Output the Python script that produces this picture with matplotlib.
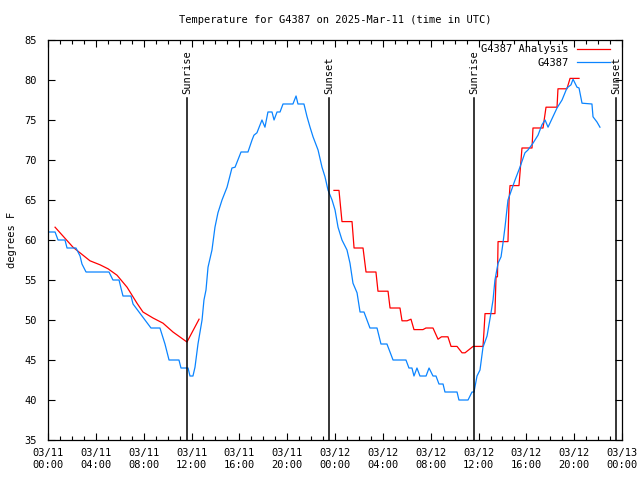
import matplotlib
matplotlib.use("Agg")
import matplotlib.pyplot as plt
from matplotlib.ticker import MultipleLocator

# hours since 2025-03-11 00:00 UTC, temperature in F
obs_hours = [0.0, 0.59, 0.84, 1.42, 1.59, 2.34, 2.68, 2.84, 3.18, 5.10, 5.43, 5.94, 6.10, 6.27,
             6.94, 7.11, 7.61, 8.11, 8.61, 9.36, 9.78, 10.12, 10.95, 11.12, 11.71, 11.87, 12.12,
             12.29, 12.54, 12.88, 13.04, 13.21, 13.38, 13.71, 13.96, 14.21, 14.55, 14.97, 15.38,
             15.64, 16.14, 16.72, 17.06, 17.22, 17.47, 17.89, 18.14, 18.39, 18.73, 18.90, 19.15,
             19.40, 19.65, 20.48, 20.74, 20.90, 21.40, 21.66, 21.91, 22.16, 22.58, 22.91, 23.16,
             23.41, 23.75, 24.00, 24.25, 24.58, 25.00, 25.25, 25.50, 25.84, 26.09, 26.42, 26.92,
             27.51, 27.84, 28.34, 28.85, 29.93, 30.18, 30.43, 30.60, 30.85, 31.10, 31.61, 31.86,
             32.19, 32.44, 32.69, 33.03, 33.19, 34.20, 34.36, 35.12, 35.45, 35.62, 35.87, 36.12,
             36.37, 36.71, 37.04, 37.21, 37.37, 37.63, 37.88, 38.04, 38.21, 38.46, 39.05, 39.46,
             39.88, 40.13, 40.55, 40.97, 41.30, 41.56, 41.81, 42.22, 42.56, 42.98, 43.39, 43.73,
             43.90, 44.23, 44.40, 44.65, 45.48, 45.57, 45.90, 46.15]
obs_temps = [61.0, 61.0, 60.0, 60.0, 59.0, 59.0, 58.0, 57.0, 56.0, 56.0, 55.0, 55.0, 54.0, 53.0,
             53.0, 52.0, 51.0, 50.0, 49.0, 49.0, 47.0, 45.0, 45.0, 44.0, 44.0, 43.0, 43.0,
             44.1, 47.0, 50.0, 52.5, 53.75, 56.6, 58.75, 61.6, 63.4, 65.0, 66.6, 69.0,
             69.1, 71.0, 71.0, 72.5, 73.1, 73.4, 75.0, 74.1, 76.0, 76.0, 75.0, 76.0,
             76.0, 77.0, 77.0, 78.0, 77.0, 77.0, 75.4, 74.1, 72.9, 71.25, 69.1, 67.9,
             66.25, 65.0, 63.75, 61.6, 60.0, 58.75, 57.1, 54.6, 53.4, 51.0, 51.0, 49.0,
             49.0, 47.0, 47.0, 45.0, 45.0, 44.0, 44.0, 43.0, 44.0, 43.0, 43.0, 44.0,
             43.0, 43.0, 42.0, 42.0, 41.0, 41.0, 40.0, 40.0, 41.0, 41.0, 43.0, 43.75,
             46.6, 48.0, 50.9, 52.5, 55.0, 57.1, 57.9, 59.6, 61.6, 65.0, 67.5, 69.1,
             70.9, 71.25, 72.1, 73.1, 74.4, 75.0, 74.1, 75.4, 76.5, 77.5, 79.0, 79.4,
             80.1, 79.1, 79.0, 77.1, 77.0, 75.4, 74.75, 74.1]

# analysis, first day (smooth part)
ana1_hours = [0.59, 2.09, 3.51, 4.35, 5.02, 5.77, 6.61, 7.44, 7.94, 8.78, 9.62, 10.45, 11.62, 12.63]
ana1_temps = [61.6, 59.1, 57.4, 56.9, 56.4, 55.6, 54.1, 52.1, 51.0, 50.25, 49.6, 48.5, 47.25, 50.1]

# analysis, second part (stepped)
ana2_hours = [23.91, 24.33, 24.58, 25.42, 25.59, 26.34, 26.59, 27.42, 27.59, 28.43, 28.60, 29.43,
              29.60, 30.02, 30.35, 30.60, 31.35, 31.60, 32.19, 32.61, 32.90, 33.44, 33.70, 34.20,
              34.62, 34.87, 35.54, 36.37, 36.45, 36.54, 37.37, 37.46, 37.58, 37.63, 38.46, 38.55,
              38.63, 39.38, 39.63, 40.47, 40.55, 41.39, 41.64, 42.56, 42.64, 43.39, 43.65, 44.40]
ana2_temps = [66.2, 66.2, 62.3, 62.3, 59.0, 59.0, 56.0, 56.0, 53.6, 53.6, 51.5, 51.5,
              49.9, 49.9, 50.1, 48.8, 48.8, 49.0, 49.0, 47.6, 47.9, 47.9, 46.7, 46.7,
              45.9, 45.9, 46.7, 46.7, 48.5, 50.8, 50.8, 55.4, 55.4, 59.8, 59.8, 65.0,
              66.8, 66.8, 71.5, 71.5, 74.0, 74.0, 76.6, 76.6, 78.9, 78.9, 80.2, 80.2]

sun_hours = [11.62, 23.5, 35.62, 47.49]
sun_labels = ["Sunrise", "Sunset", "Sunrise", "Sunset"]

tick_hours = list(range(0, 49, 4))
tick_labels = ["03/11\n00:00", "03/11\n04:00", "03/11\n08:00", "03/11\n12:00", "03/11\n16:00",
               "03/11\n20:00", "03/12\n00:00", "03/12\n04:00", "03/12\n08:00", "03/12\n12:00",
               "03/12\n16:00", "03/12\n20:00", "03/13\n00:00"]

plt.rcParams['font.family'] = 'DejaVu Sans Mono'
plt.rcParams['font.size'] = 7

fig = plt.figure(figsize=(6.4, 4.8), dpi=100)
ax = fig.add_axes([0.075, 0.0833, 0.897, 0.8334])

red = '#ff0000'
blue = '#0a84ff'
ax.plot(ana1_hours, ana1_temps, color=red, lw=0.9, label='G4387 Analysis')
ax.plot(ana2_hours, ana2_temps, color=red, lw=0.9)
ax.plot(obs_hours, obs_temps, color=blue, lw=0.9, label='G4387')

for h, lab in zip(sun_hours, sun_labels):
    ax.plot([h, h], [35, 77.75], color='black', lw=1.1)
    ax.text(h, 78.2, lab, rotation=90, ha='center', va='bottom', fontsize=7.5)

ax.set_xlim(0, 48)
ax.set_ylim(35, 85)
ax.set_xticks(tick_hours)
ax.set_xticklabels(tick_labels)
ax.xaxis.set_minor_locator(MultipleLocator(1))
ax.set_yticks(range(35, 86, 5))
ax.tick_params(which='both', direction='in', top=True, right=True, labelsize=7.5)
ax.tick_params(which='major', length=5, width=0.8)
ax.tick_params(which='minor', length=3, width=0.8)
ax.tick_params(axis='x', pad=6)
ax.tick_params(axis='y', pad=8)
for s in ax.spines.values():
    s.set_linewidth(0.9)

ax.set_ylabel('degrees F', fontsize=7.5, labelpad=5)
ax.set_title('Temperature for G4387 on 2025-Mar-11 (time in UTC)', fontsize=7.5, pad=12)

leg = ax.legend(loc='upper right', bbox_to_anchor=(0.99, 1.005), frameon=False,
                markerfirst=False, handlelength=3.2, handletextpad=0.8, labelspacing=0.35,
                fontsize=7.5, borderaxespad=0.2)
for t in leg.get_texts():
    t.set_ha('right')

fig.savefig('out.png', dpi=100)
